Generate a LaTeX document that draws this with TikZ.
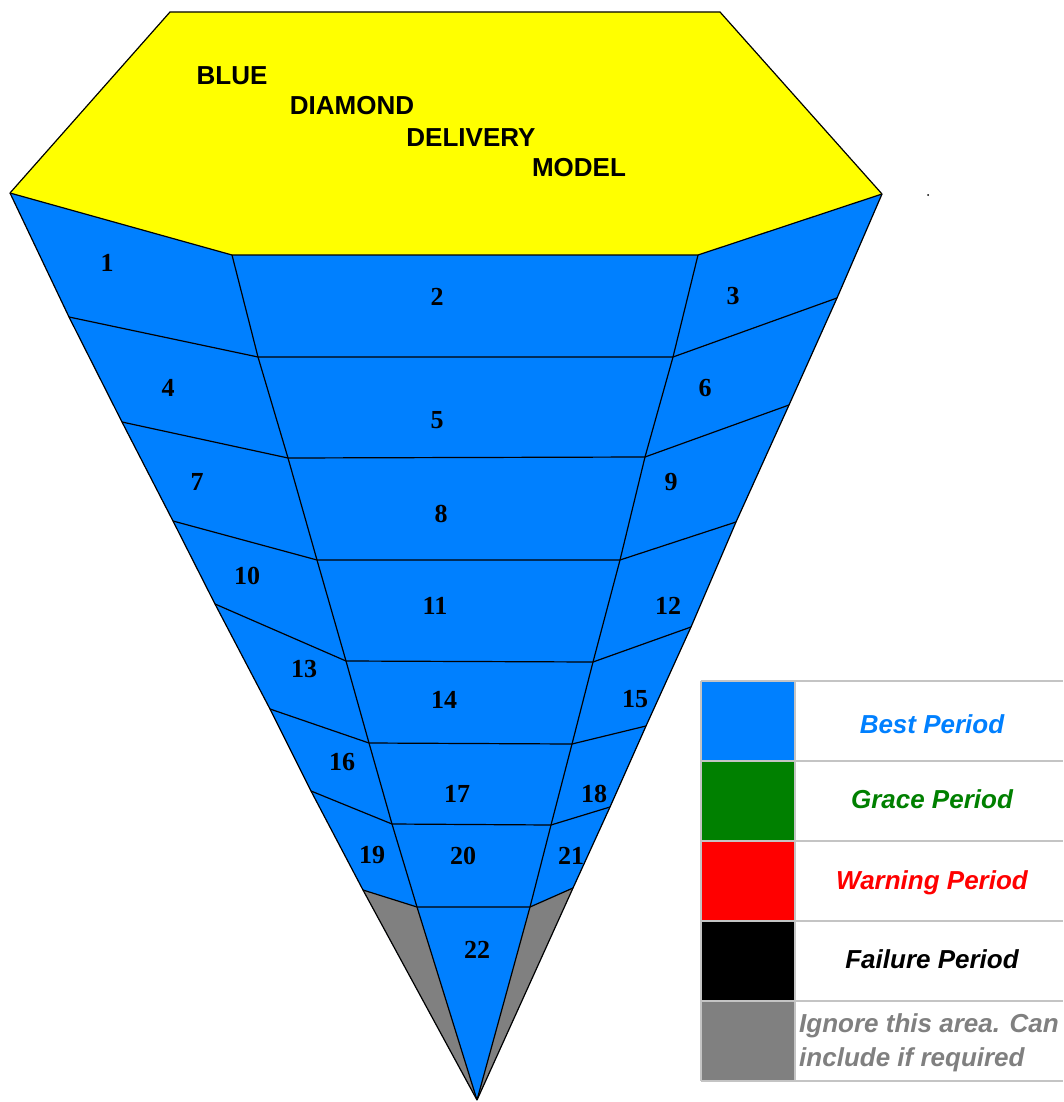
\documentclass[tikz,border=0pt]{standalone}
\usepackage{fontspec}
\setmainfont{Liberation Serif}
\newfontfamily\gemsans{Liberation Sans}
\usetikzlibrary{positioning}
\definecolor{GemBlue}{HTML}{0080FF}
\definecolor{GemYellow}{HTML}{FFFF00}
\definecolor{GemGrey}{HTML}{808080}
\definecolor{GraceGreen}{HTML}{008000}
\definecolor{WarnRed}{HTML}{FF0000}
\definecolor{GridGrey}{HTML}{C4C4C4}
\tikzset{
  facet/.style={draw=black, line width=1.2pt, line join=miter},
  numlbl/.style={font=\fontsize{26}{30}\selectfont\bfseries, inner sep=0pt},
  titlelbl/.style={font=\gemsans\fontsize{26}{30}\selectfont\bfseries,
    inner sep=0pt, anchor=base},
  keylbl/.style={font=\gemsans\fontsize{26}{30}\selectfont\bfseries\itshape,
    inner sep=0pt, anchor=base, text=#1},
  keylbl/.default={black},
}

\begin{document}
\begin{tikzpicture}[x=1pt, y=-1pt,
  gridline/.style={draw=GridGrey, line width=2pt},
]
  \useasboundingbox (0,0) rectangle (1063,1102);
  \fill[white] (0,0) rectangle (1063,1102);

  \foreach \i/\x/\y in {0/10/193,1/69/317,2/122/422,3/173/521,4/215/604,5/270/709,6/311/791,7/363/890}
    \coordinate (L\i) at (\x,\y);
  \foreach \i/\x/\y in {0/232/255,1/258/357,2/288/458,3/317/560,4/346/661,5/369/743,6/392/824,7/417/907}
    \coordinate (A\i) at (\x,\y);
  \foreach \i/\x/\y in {0/698/255,1/673/357,2/645/457,3/620/560,4/593/662,5/572/744,6/551/825,7/530/907}
    \coordinate (B\i) at (\x,\y);
  \foreach \i/\x/\y in {0/882/194,1/837/298,2/789/405,3/736/522,4/691/627,5/646/726,6/610/807,7/573/888}
    \coordinate (R\i) at (\x,\y);
  \coordinate (T) at (477,1100);
  \coordinate (TL) at (170,12);
  \coordinate (TR) at (720,12);

  \fill[GemYellow] (TL) -- (TR) -- (R0) -- (B0) -- (A0) -- (L0) -- cycle;
  \fill[GemBlue] (L0) -- (A0) -- (B0) -- (R0) -- (R1) -- (R2) -- (R3) -- (R4) -- (R5) -- (R6) -- (R7)
    -- (T) -- (L7) -- (L6) -- (L5) -- (L4) -- (L3) -- (L2) -- (L1) -- cycle;
  \fill[GemGrey] (L7) -- (A7) -- (T) -- cycle;
  \fill[GemGrey] (R7) -- (B7) -- (T) -- cycle;

  \draw[facet] (L0) -- (TL) -- (TR) -- (R0);
  \draw[facet] (L0) -- (L1) -- (L2) -- (L3) -- (L4) -- (L5) -- (L6) -- (L7) -- (T);
  \draw[facet] (R0) -- (R1) -- (R2) -- (R3) -- (R4) -- (R5) -- (R6) -- (R7) -- (T);
  \draw[facet] (A0) -- (A1) -- (A2) -- (A3) -- (A4) -- (A5) -- (A6) -- (A7) -- (T);
  \draw[facet] (B0) -- (B1) -- (B2) -- (B3) -- (B4) -- (B5) -- (B6) -- (B7) -- (T);
  \foreach \i in {0,...,7} {
    \draw[facet] (L\i) -- (A\i) -- (B\i) -- (R\i);
  }
  \fill (928,195) circle (1);

  \node[titlelbl] (t1) at (232,85) {BLUE};
  \node[titlelbl] (t2) at (352,115) {DIAMOND};
  \node[titlelbl] (t3) at (471,147) {DELIVERY};
  \node[titlelbl] (t4) at (579,177) {MODEL};

  \foreach \k/\x/\y in {1/107/263,2/437/297,3/733/296,4/168/388,5/437/420,6/705/388,
      7/197/482,8/441/514,9/671/482,10/247/576,11/435/606,12/668/606,
      13/304/669,14/444/700,15/635/699,16/342/762,17/457/794,18/594/794,
      19/372/855,20/463/856,21/571/856,22/477/950}
    \node[numlbl] (n\k) at (\x,\y) {\k};

  \foreach \c [count=\r from 0] in {GemBlue,GraceGreen,WarnRed,black,GemGrey}
    \fill[\c] (701,681+80*\r) rectangle (795,761+80*\r);
  \foreach \r in {0,...,5}
    \draw[gridline] (701,681+80*\r) -- (1063,681+80*\r);
  \draw[gridline] (701,681) -- (701,1081);
  \draw[gridline] (795,681) -- (795,1081);

  \node[keylbl=GemBlue] (k1) at (932,733) {Best Period};
  \node[keylbl=GraceGreen] (k2) at (932,808) {Grace Period};
  \node[keylbl=WarnRed] (k3) at (932,889) {Warning Period};
  \node[keylbl] (k4) at (932,968) {Failure Period};
  \node[keylbl=GemGrey, anchor=base west] (k5a) at (799,1032) {Ignore this area. Can};
  \node[keylbl=GemGrey, anchor=base west] (k5b) at (799,1066) {include if required};
\end{tikzpicture}
\end{document}
